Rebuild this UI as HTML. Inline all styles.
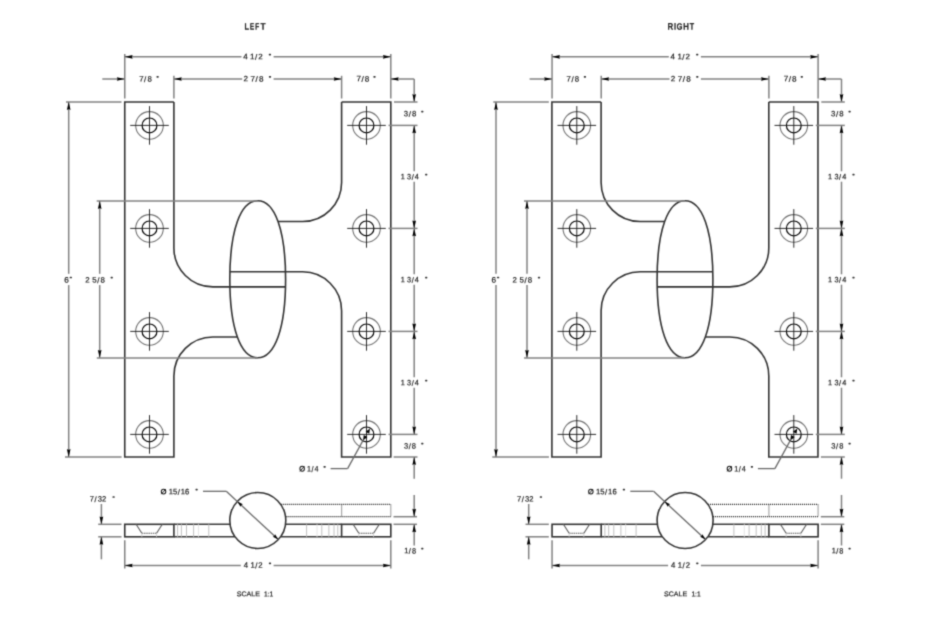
<!DOCTYPE html>
<html><head><meta charset="utf-8"><title>Hinge drawing</title>
<style>html,body{margin:0;padding:0;background:#fff;}svg{display:block;will-change:transform;}text{font-family:"Liberation Sans",sans-serif;font-kerning:none;text-rendering:geometricPrecision;}</style></head><body>
<svg width="925" height="620" viewBox="0 0 925 620">
<defs><filter id="bl" color-interpolation-filters="sRGB" filterUnits="userSpaceOnUse" x="0" y="0" width="925" height="620"><feConvolveMatrix order="3" kernelMatrix="1 4 1 4 16 4 1 4 1" divisor="36" edgeMode="duplicate"/></filter></defs>
<rect width="925" height="620" fill="#fff"/>
<g filter="url(#bl)">
<rect width="925" height="620" fill="#fff"/>
<g>
<g fill="none" stroke="#333333" stroke-width="1.6">
<path d="M173.9,102 H124.75 V457 H173.9 V376 A39.0,39.0 0 0 1 212.9,337 H237.34 M173.9,102 V247.9 A39.0,39.0 0 0 0 212.9,286.9 H285.51 M341.6,102 H390.8 V457 H341.6 V310.8 A39.0,39.0 0 0 0 302.6,271.8 H229.89 M341.6,102 V182.5 A39.0,39.0 0 0 1 302.6,221.5 H278.04"/>
<path d="M257.7,200.8 C275,200.8 285.6,230.63 285.6,279.3 C285.6,327.97 275,357.8 257.7,357.8 C240.4,357.8 229.8,327.97 229.8,279.3 C229.8,230.63 240.4,200.8 257.7,200.8 Z"/>
</g>
<circle cx="149.5" cy="125.4" r="13.8" fill="none" stroke="#727272" stroke-width="1.1"/>
<circle cx="149.5" cy="125.4" r="7.4" fill="none" stroke="#000" stroke-width="1.2"/>
<line x1="130.2" y1="125.4" x2="168.8" y2="125.4" stroke="#222" stroke-width="0.95"/>
<line x1="149.5" y1="106.1" x2="149.5" y2="144.7" stroke="#222" stroke-width="0.95"/>
<circle cx="149.5" cy="228.4" r="13.8" fill="none" stroke="#727272" stroke-width="1.1"/>
<circle cx="149.5" cy="228.4" r="7.4" fill="none" stroke="#000" stroke-width="1.2"/>
<line x1="130.2" y1="228.4" x2="168.8" y2="228.4" stroke="#222" stroke-width="0.95"/>
<line x1="149.5" y1="209.1" x2="149.5" y2="247.7" stroke="#222" stroke-width="0.95"/>
<circle cx="149.5" cy="331.4" r="13.8" fill="none" stroke="#727272" stroke-width="1.1"/>
<circle cx="149.5" cy="331.4" r="7.4" fill="none" stroke="#000" stroke-width="1.2"/>
<line x1="130.2" y1="331.4" x2="168.8" y2="331.4" stroke="#222" stroke-width="0.95"/>
<line x1="149.5" y1="312.1" x2="149.5" y2="350.7" stroke="#222" stroke-width="0.95"/>
<circle cx="149.5" cy="434.4" r="13.8" fill="none" stroke="#727272" stroke-width="1.1"/>
<circle cx="149.5" cy="434.4" r="7.4" fill="none" stroke="#000" stroke-width="1.2"/>
<line x1="130.2" y1="434.4" x2="168.8" y2="434.4" stroke="#222" stroke-width="0.95"/>
<line x1="149.5" y1="415.1" x2="149.5" y2="453.7" stroke="#222" stroke-width="0.95"/>
<circle cx="366.5" cy="125.4" r="13.8" fill="none" stroke="#727272" stroke-width="1.1"/>
<circle cx="366.5" cy="125.4" r="7.4" fill="none" stroke="#000" stroke-width="1.2"/>
<line x1="347.2" y1="125.4" x2="385.8" y2="125.4" stroke="#222" stroke-width="0.95"/>
<line x1="366.5" y1="106.1" x2="366.5" y2="144.7" stroke="#222" stroke-width="0.95"/>
<circle cx="366.5" cy="228.4" r="13.8" fill="none" stroke="#727272" stroke-width="1.1"/>
<circle cx="366.5" cy="228.4" r="7.4" fill="none" stroke="#000" stroke-width="1.2"/>
<line x1="347.2" y1="228.4" x2="385.8" y2="228.4" stroke="#222" stroke-width="0.95"/>
<line x1="366.5" y1="209.1" x2="366.5" y2="247.7" stroke="#222" stroke-width="0.95"/>
<circle cx="366.5" cy="331.4" r="13.8" fill="none" stroke="#727272" stroke-width="1.1"/>
<circle cx="366.5" cy="331.4" r="7.4" fill="none" stroke="#000" stroke-width="1.2"/>
<line x1="347.2" y1="331.4" x2="385.8" y2="331.4" stroke="#222" stroke-width="0.95"/>
<line x1="366.5" y1="312.1" x2="366.5" y2="350.7" stroke="#222" stroke-width="0.95"/>
<circle cx="366.5" cy="434.4" r="13.8" fill="none" stroke="#727272" stroke-width="1.1"/>
<circle cx="366.5" cy="434.4" r="7.4" fill="none" stroke="#000" stroke-width="1.2"/>
<line x1="347.2" y1="434.4" x2="385.8" y2="434.4" stroke="#222" stroke-width="0.95"/>
<line x1="366.5" y1="415.1" x2="366.5" y2="453.7" stroke="#222" stroke-width="0.95"/>
<line x1="124.75" y1="53.9" x2="124.75" y2="98.5" stroke="#828282" stroke-width="1.5"/>
<line x1="390.8" y1="53.9" x2="390.8" y2="98.5" stroke="#828282" stroke-width="1.5"/>
<line x1="173.9" y1="75.8" x2="173.9" y2="98.5" stroke="#828282" stroke-width="1.5"/>
<line x1="341.6" y1="75.8" x2="341.6" y2="98.5" stroke="#828282" stroke-width="1.5"/>
<line x1="124.75" y1="56.8" x2="241.5" y2="56.8" stroke="#828282" stroke-width="1.5"/>
<line x1="273.6" y1="56.8" x2="390.8" y2="56.8" stroke="#828282" stroke-width="1.5"/>
<path d="M124.75,56.8 L132.65,54.95 L131.86,56.8 L132.65,58.65 Z" fill="#000"/>
<path d="M390.8,56.8 L382.9,58.65 L383.69,56.8 L382.9,54.95 Z" fill="#000"/>
<text transform="translate(243.4,59.25) scale(1.0125,1) skewY(0.05)" x="-0.18 0.32 6.61 11.46 14.68" dy="0 0 0 0.45 -0.45" font-size="7.877" fill="#1a1a1a" stroke="#1a1a1a" stroke-width="0.2">4 1/2</text>
<rect x="268.75" y="53.85" width="2.3" height="1.7" fill="#333" rx="0.7"/>
<line x1="173.9" y1="79" x2="242.2" y2="79" stroke="#828282" stroke-width="1.5"/>
<line x1="273.6" y1="79" x2="341.6" y2="79" stroke="#828282" stroke-width="1.5"/>
<path d="M173.9,79 L181.8,77.15 L181.01,79 L181.8,80.85 Z" fill="#000"/>
<path d="M341.6,79 L333.7,80.85 L334.49,79 L333.7,77.15 Z" fill="#000"/>
<text transform="translate(243.9,81.37) scale(1.0436,1) skewY(0.05)" x="-0.39 0.11 6.38 11.17 14.41" dy="0 0 0 0.45 -0.45" font-size="7.768" fill="#1a1a1a" stroke="#1a1a1a" stroke-width="0.2">2 7/8</text>
<rect x="268.85" y="76.05" width="2.3" height="1.7" fill="#333" rx="0.7"/>
<line x1="102.3" y1="79" x2="124.75" y2="79" stroke="#828282" stroke-width="1.5"/>
<path d="M124.75,79 L116.85,80.85 L117.64,79 L116.85,77.15 Z" fill="#000"/>
<text transform="translate(139.7,81.47) scale(1.0068,1) skewY(0.05)" x="-0.4 4.39 7.64" dy="0 0.45 -0.45" font-size="7.768" fill="#1a1a1a" stroke="#1a1a1a" stroke-width="0.2">7/8</text>
<rect x="156.45" y="75.95" width="2.3" height="1.7" fill="#333" rx="0.7"/>
<text transform="translate(356.8,81.37) scale(1.0499,1) skewY(0.05)" x="-0.4 4.39 7.64" dy="0 0.45 -0.45" font-size="7.768" fill="#1a1a1a" stroke="#1a1a1a" stroke-width="0.2">7/8</text>
<rect x="373.35" y="75.95" width="2.3" height="1.7" fill="#333" rx="0.7"/>
<line x1="390.8" y1="79" x2="414.2" y2="79" stroke="#828282" stroke-width="1.5"/>
<path d="M390.8,79 L398.7,77.15 L397.91,79 L398.7,80.85 Z" fill="#000"/>
<line x1="414.2" y1="79" x2="414.2" y2="102" stroke="#828282" stroke-width="1.5"/>
<path d="M414.2,102 L412.35,94.1 L414.2,94.89 L416.05,94.1 Z" fill="#000"/>
<line x1="394" y1="102" x2="417.5" y2="102" stroke="#828282" stroke-width="1.5"/>
<line x1="388.5" y1="125.4" x2="417.5" y2="125.4" stroke="#828282" stroke-width="1.5"/>
<line x1="388.5" y1="228.4" x2="417.5" y2="228.4" stroke="#828282" stroke-width="1.5"/>
<line x1="388.5" y1="331.4" x2="417.5" y2="331.4" stroke="#828282" stroke-width="1.5"/>
<line x1="388.5" y1="434.4" x2="417.5" y2="434.4" stroke="#828282" stroke-width="1.5"/>
<line x1="393.6" y1="457" x2="417.5" y2="457" stroke="#828282" stroke-width="1.5"/>
<text transform="translate(404.1,116.27) scale(1.0024,1) skewY(0.05)" x="-0.3 4.54 7.79" dy="0 0.45 -0.45" font-size="7.768" fill="#1a1a1a" stroke="#1a1a1a" stroke-width="0.2">3/8</text>
<rect x="421.15" y="110.75" width="2.3" height="1.7" fill="#333" rx="0.7"/>
<line x1="414.2" y1="125.4" x2="414.2" y2="171.3" stroke="#828282" stroke-width="1.5"/>
<line x1="414.2" y1="181.7" x2="414.2" y2="228.4" stroke="#828282" stroke-width="1.5"/>
<path d="M414.2,125.4 L416.05,133.3 L414.2,132.51 L412.35,133.3 Z" fill="#000"/>
<path d="M414.2,228.4 L412.35,220.5 L414.2,221.29 L416.05,220.5 Z" fill="#000"/>
<text transform="translate(401.2,179.17) scale(0.9394,1) skewY(0.05)" x="-0.59 -0.09 6.29 11.13 14.54" dy="0 0 0 0.45 -0.45" font-size="7.768" fill="#1a1a1a" stroke="#1a1a1a" stroke-width="0.2">1 3/4</text>
<rect x="425.05" y="173.75" width="2.3" height="1.7" fill="#333" rx="0.7"/>
<line x1="414.2" y1="228.4" x2="414.2" y2="274.3" stroke="#828282" stroke-width="1.5"/>
<line x1="414.2" y1="284.7" x2="414.2" y2="331.4" stroke="#828282" stroke-width="1.5"/>
<path d="M414.2,228.4 L416.05,236.3 L414.2,235.51 L412.35,236.3 Z" fill="#000"/>
<path d="M414.2,331.4 L412.35,323.5 L414.2,324.29 L416.05,323.5 Z" fill="#000"/>
<text transform="translate(401.2,282.17) scale(0.9394,1) skewY(0.05)" x="-0.59 -0.09 6.29 11.13 14.54" dy="0 0 0 0.45 -0.45" font-size="7.768" fill="#1a1a1a" stroke="#1a1a1a" stroke-width="0.2">1 3/4</text>
<rect x="425.05" y="276.75" width="2.3" height="1.7" fill="#333" rx="0.7"/>
<line x1="414.2" y1="331.4" x2="414.2" y2="377.3" stroke="#828282" stroke-width="1.5"/>
<line x1="414.2" y1="387.7" x2="414.2" y2="434.4" stroke="#828282" stroke-width="1.5"/>
<path d="M414.2,331.4 L416.05,339.3 L414.2,338.51 L412.35,339.3 Z" fill="#000"/>
<path d="M414.2,434.4 L412.35,426.5 L414.2,427.29 L416.05,426.5 Z" fill="#000"/>
<text transform="translate(401.2,385.17) scale(0.9394,1) skewY(0.05)" x="-0.59 -0.09 6.29 11.13 14.54" dy="0 0 0 0.45 -0.45" font-size="7.768" fill="#1a1a1a" stroke="#1a1a1a" stroke-width="0.2">1 3/4</text>
<rect x="425.05" y="379.75" width="2.3" height="1.7" fill="#333" rx="0.7"/>
<text transform="translate(404.3,448.57) scale(0.9684,1) skewY(0.05)" x="-0.3 4.54 7.79" dy="0 0.45 -0.45" font-size="7.768" fill="#1a1a1a" stroke="#1a1a1a" stroke-width="0.2">3/8</text>
<rect x="421.15" y="442.85" width="2.3" height="1.7" fill="#333" rx="0.7"/>
<line x1="414.2" y1="457" x2="414.2" y2="478.7" stroke="#828282" stroke-width="1.5"/>
<path d="M414.2,457 L416.05,464.9 L414.2,464.11 L412.35,464.9 Z" fill="#000"/>
<line x1="66" y1="102" x2="121.5" y2="102" stroke="#828282" stroke-width="1.5"/>
<line x1="65" y1="457" x2="121.6" y2="457" stroke="#828282" stroke-width="1.5"/>
<line x1="68.7" y1="102" x2="68.7" y2="273.8" stroke="#828282" stroke-width="1.5"/>
<line x1="68.7" y1="285.1" x2="68.7" y2="457" stroke="#828282" stroke-width="1.5"/>
<path d="M68.7,102 L70.55,109.9 L68.7,109.11 L66.85,109.9 Z" fill="#000"/>
<path d="M68.7,457 L66.85,449.1 L68.7,449.89 L70.55,449.1 Z" fill="#000"/>
<text transform="translate(64.28,282.47) scale(1.0601,1) skewY(0.05)" font-size="7.768" fill="#1a1a1a" stroke="#1a1a1a" stroke-width="0.2">6</text>
<rect x="69.65" y="276.65" width="2.3" height="1.7" fill="#333" rx="0.7"/>
<line x1="96.7" y1="201" x2="257.7" y2="201" stroke="#828282" stroke-width="1.5"/>
<line x1="96.8" y1="357.9" x2="257.7" y2="357.9" stroke="#828282" stroke-width="1.5"/>
<line x1="99.7" y1="201" x2="99.7" y2="273.8" stroke="#828282" stroke-width="1.5"/>
<line x1="99.7" y1="285.1" x2="99.7" y2="357.8" stroke="#828282" stroke-width="1.5"/>
<path d="M99.7,201 L101.55,208.9 L99.7,208.11 L97.85,208.9 Z" fill="#000"/>
<path d="M99.7,357.8 L97.85,349.9 L99.7,350.69 L101.55,349.9 Z" fill="#000"/>
<text transform="translate(85.7,282.47) scale(1.0135,1) skewY(0.05)" x="-0.39 0.11 6.47 11.32 14.57" dy="0 0 0 0.45 -0.45" font-size="7.768" fill="#1a1a1a" stroke="#1a1a1a" stroke-width="0.2">2 5/8</text>
<rect x="110.55" y="276.85" width="2.3" height="1.7" fill="#333" rx="0.7"/>
<line x1="330.6" y1="468.6" x2="347.6" y2="468.6" stroke="#6a6a6a" stroke-width="1.3"/>
<line x1="347.6" y1="468.6" x2="363.05" y2="440.38" stroke="#6a6a6a" stroke-width="1.3"/>
<path d="M363.05,440.38 L363.73,435 L365.55,436.05 L367.37,437.1 Z" fill="#000"/>
<path d="M369.95,428.42 L369.27,433.8 L367.45,432.75 L365.63,431.7 Z" fill="#000"/>
<ellipse cx="302.15" cy="468.8" rx="2.25" ry="2.45" fill="none" stroke="#1a1a1a" stroke-width="1.05"/>
<line x1="299.85" y1="471.4" x2="304.45" y2="466.2" stroke="#1a1a1a" stroke-width="0.9"/>
<text transform="translate(307.6,471.45) scale(0.8930,1) skewY(0.05)" x="-0.61 4.3 7.77" dy="0 0.45 -0.45" font-size="7.994" fill="#1a1a1a" stroke="#1a1a1a" stroke-width="0.2">1/4</text>
<rect x="323.45" y="465.95" width="2.3" height="1.7" fill="#333" rx="0.7"/>
<rect x="124.75" y="524.3" width="49.15" height="12.5" fill="none" stroke="#333333" stroke-width="1.6"/>
<rect x="341.6" y="524.3" width="49.2" height="12.5" fill="none" stroke="#333333" stroke-width="1.6"/>
<line x1="173.9" y1="524.3" x2="230.06" y2="524.3" stroke="#3a3a3a" stroke-width="1.45"/>
<line x1="173.9" y1="536.8" x2="235.03" y2="536.8" stroke="#3a3a3a" stroke-width="1.45"/>
<line x1="285.54" y1="524.3" x2="341.6" y2="524.3" stroke="#3a3a3a" stroke-width="1.45"/>
<line x1="280.57" y1="536.8" x2="341.6" y2="536.8" stroke="#3a3a3a" stroke-width="1.45"/>
<line x1="177.6" y1="524.3" x2="177.6" y2="536.8" stroke="#c2c2c2" stroke-width="1.0"/>
<line x1="337.8" y1="524.3" x2="337.8" y2="536.8" stroke="#c2c2c2" stroke-width="1.0"/>
<line x1="181.4" y1="524.3" x2="181.4" y2="536.8" stroke="#c2c2c2" stroke-width="1.0"/>
<line x1="334" y1="524.3" x2="334" y2="536.8" stroke="#c2c2c2" stroke-width="1.0"/>
<line x1="186.5" y1="524.3" x2="186.5" y2="536.8" stroke="#c2c2c2" stroke-width="1.0"/>
<line x1="328.9" y1="524.3" x2="328.9" y2="536.8" stroke="#c2c2c2" stroke-width="1.0"/>
<line x1="193.6" y1="524.3" x2="193.6" y2="536.8" stroke="#c2c2c2" stroke-width="1.0"/>
<line x1="321.8" y1="524.3" x2="321.8" y2="536.8" stroke="#c2c2c2" stroke-width="1.0"/>
<line x1="198.4" y1="524.3" x2="198.4" y2="536.8" stroke="#e6e6e6" stroke-width="1.0"/>
<line x1="317" y1="524.3" x2="317" y2="536.8" stroke="#e6e6e6" stroke-width="1.0"/>
<line x1="208.8" y1="524.3" x2="208.8" y2="536.8" stroke="#c2c2c2" stroke-width="1.0"/>
<line x1="306.6" y1="524.3" x2="306.6" y2="536.8" stroke="#c2c2c2" stroke-width="1.0"/>
<path d="M136.1,524.3 L141.85,533.2 M156.55,533.2 L162.3,524.3" stroke="#5a5a5a" stroke-width="1.1" fill="none"/>
<line x1="141.85" y1="533.2" x2="156.55" y2="533.2" stroke="#555" stroke-width="1.05" stroke-dasharray="1.5,0.7"/>
<line x1="141.85" y1="533.2" x2="141.85" y2="536.8" stroke="#d0d0d0" stroke-width="0.9"/>
<line x1="156.55" y1="533.2" x2="156.55" y2="536.8" stroke="#d0d0d0" stroke-width="0.9"/>
<path d="M353.1,524.3 L358.85,533.2 M373.55,533.2 L379.3,524.3" stroke="#5a5a5a" stroke-width="1.1" fill="none"/>
<line x1="358.85" y1="533.2" x2="373.55" y2="533.2" stroke="#555" stroke-width="1.05" stroke-dasharray="1.5,0.7"/>
<line x1="358.85" y1="533.2" x2="358.85" y2="536.8" stroke="#d0d0d0" stroke-width="0.9"/>
<line x1="373.55" y1="533.2" x2="373.55" y2="536.8" stroke="#d0d0d0" stroke-width="0.9"/>
<circle cx="257.8" cy="520.5" r="28.0" fill="white" stroke="#333333" stroke-width="1.6"/>
<line x1="280.71" y1="504.4" x2="390.8" y2="504.4" stroke="#2a2a2a" stroke-width="1.3" stroke-dasharray="1.1,0.9"/>
<line x1="285.54" y1="516.7" x2="390.8" y2="516.7" stroke="#2a2a2a" stroke-width="1.3" stroke-dasharray="1.1,0.9"/>
<line x1="341.6" y1="504.4" x2="341.6" y2="516.7" stroke="#555" stroke-width="1.2" stroke-dasharray="1.1,0.9"/>
<line x1="390.8" y1="504.4" x2="390.8" y2="516.7" stroke="#555" stroke-width="1.2" stroke-dasharray="1.1,0.9"/>
<line x1="203" y1="491.3" x2="226.3" y2="491.3" stroke="#6a6a6a" stroke-width="1.3"/>
<line x1="226.3" y1="491.3" x2="278.28" y2="539.6" stroke="#6a6a6a" stroke-width="1.3"/>
<path d="M237.32,501.4 L242.87,504.25 L241.27,505.09 L240.55,506.74 Z" fill="#000"/>
<path d="M278.28,539.6 L272.73,536.75 L274.33,535.91 L275.05,534.26 Z" fill="#000"/>
<ellipse cx="163.55" cy="491.6" rx="2.25" ry="2.45" fill="none" stroke="#1a1a1a" stroke-width="1.05"/>
<line x1="161.25" y1="494.2" x2="165.85" y2="489" stroke="#1a1a1a" stroke-width="0.9"/>
<text transform="translate(169.2,494.17) scale(0.9839,1) skewY(0.05)" x="-0.59 3.9 8.75 11.74 16.15" dy="0 0 0.45 -0.45 0" font-size="7.768" fill="#1a1a1a" stroke="#1a1a1a" stroke-width="0.2">15/16</text>
<rect x="195.45" y="488.75" width="2.3" height="1.7" fill="#333" rx="0.7"/>
<line x1="98.2" y1="524.3" x2="121.5" y2="524.3" stroke="#828282" stroke-width="1.5"/>
<line x1="98.2" y1="536.8" x2="121.5" y2="536.8" stroke="#828282" stroke-width="1.5"/>
<line x1="101.4" y1="504" x2="101.4" y2="524.3" stroke="#828282" stroke-width="1.5"/>
<path d="M101.4,524.3 L99.55,516.4 L101.4,517.19 L103.25,516.4 Z" fill="#000"/>
<line x1="101.4" y1="536.8" x2="101.4" y2="559.3" stroke="#828282" stroke-width="1.5"/>
<path d="M101.4,536.8 L103.25,544.7 L101.4,543.91 L99.55,544.7 Z" fill="#000"/>
<text transform="translate(90.2,501.47) scale(0.9779,1) skewY(0.05)" x="-0.4 4.39 7.68 12.12" dy="0 0.45 -0.45 0" font-size="7.768" fill="#1a1a1a" stroke="#1a1a1a" stroke-width="0.2">7/32</text>
<rect x="112.45" y="496.15" width="2.3" height="1.7" fill="#333" rx="0.7"/>
<line x1="393.5" y1="516.7" x2="417" y2="516.7" stroke="#828282" stroke-width="1.5"/>
<line x1="393.5" y1="524.3" x2="417" y2="524.3" stroke="#828282" stroke-width="1.5"/>
<line x1="414.2" y1="495" x2="414.2" y2="516.7" stroke="#828282" stroke-width="1.5"/>
<path d="M414.2,516.7 L412.35,508.8 L414.2,509.59 L416.05,508.8 Z" fill="#000"/>
<line x1="414.2" y1="524.3" x2="414.2" y2="545.5" stroke="#828282" stroke-width="1.5"/>
<path d="M414.2,524.3 L416.05,532.2 L414.2,531.41 L412.35,532.2 Z" fill="#000"/>
<text transform="translate(404.9,553.37) scale(0.9442,1) skewY(0.05)" x="-0.59 4.21 7.46" dy="0 0.45 -0.45" font-size="7.768" fill="#1a1a1a" stroke="#1a1a1a" stroke-width="0.2">1/8</text>
<rect x="421.15" y="547.75" width="2.3" height="1.7" fill="#333" rx="0.7"/>
<line x1="124.75" y1="540.3" x2="124.75" y2="568.5" stroke="#828282" stroke-width="1.5"/>
<line x1="390.8" y1="540.3" x2="390.8" y2="568.5" stroke="#828282" stroke-width="1.5"/>
<line x1="124.75" y1="565.5" x2="240.8" y2="565.5" stroke="#828282" stroke-width="1.5"/>
<line x1="273.6" y1="565.5" x2="390.8" y2="565.5" stroke="#828282" stroke-width="1.5"/>
<path d="M124.75,565.5 L132.65,563.65 L131.86,565.5 L132.65,567.35 Z" fill="#000"/>
<path d="M390.8,565.5 L382.9,567.35 L383.69,565.5 L382.9,563.65 Z" fill="#000"/>
<text transform="translate(243.9,567.85) scale(0.9857,1) skewY(0.05)" x="-0.18 0.32 6.61 11.46 14.68" dy="0 0 0 0.45 -0.45" font-size="7.877" fill="#1a1a1a" stroke="#1a1a1a" stroke-width="0.2">4 1/2</text>
<rect x="268.85" y="562.55" width="2.3" height="1.7" fill="#333" rx="0.7"/>
</g>
<g transform="translate(427.3,0)">
<g transform="translate(515.4,0) scale(-1,1)" fill="none" stroke="#333333" stroke-width="1.6">
<path d="M173.9,102 H124.75 V457 H173.9 V376 A39.0,39.0 0 0 1 212.9,337 H237.34 M173.9,102 V247.9 A39.0,39.0 0 0 0 212.9,286.9 H285.51 M341.6,102 H390.8 V457 H341.6 V310.8 A39.0,39.0 0 0 0 302.6,271.8 H229.89 M341.6,102 V182.5 A39.0,39.0 0 0 1 302.6,221.5 H278.04"/>
<path d="M257.7,200.8 C275,200.8 285.6,230.63 285.6,279.3 C285.6,327.97 275,357.8 257.7,357.8 C240.4,357.8 229.8,327.97 229.8,279.3 C229.8,230.63 240.4,200.8 257.7,200.8 Z"/>
</g>
<circle cx="149.5" cy="125.4" r="13.8" fill="none" stroke="#727272" stroke-width="1.1"/>
<circle cx="149.5" cy="125.4" r="7.4" fill="none" stroke="#000" stroke-width="1.2"/>
<line x1="130.2" y1="125.4" x2="168.8" y2="125.4" stroke="#222" stroke-width="0.95"/>
<line x1="149.5" y1="106.1" x2="149.5" y2="144.7" stroke="#222" stroke-width="0.95"/>
<circle cx="149.5" cy="228.4" r="13.8" fill="none" stroke="#727272" stroke-width="1.1"/>
<circle cx="149.5" cy="228.4" r="7.4" fill="none" stroke="#000" stroke-width="1.2"/>
<line x1="130.2" y1="228.4" x2="168.8" y2="228.4" stroke="#222" stroke-width="0.95"/>
<line x1="149.5" y1="209.1" x2="149.5" y2="247.7" stroke="#222" stroke-width="0.95"/>
<circle cx="149.5" cy="331.4" r="13.8" fill="none" stroke="#727272" stroke-width="1.1"/>
<circle cx="149.5" cy="331.4" r="7.4" fill="none" stroke="#000" stroke-width="1.2"/>
<line x1="130.2" y1="331.4" x2="168.8" y2="331.4" stroke="#222" stroke-width="0.95"/>
<line x1="149.5" y1="312.1" x2="149.5" y2="350.7" stroke="#222" stroke-width="0.95"/>
<circle cx="149.5" cy="434.4" r="13.8" fill="none" stroke="#727272" stroke-width="1.1"/>
<circle cx="149.5" cy="434.4" r="7.4" fill="none" stroke="#000" stroke-width="1.2"/>
<line x1="130.2" y1="434.4" x2="168.8" y2="434.4" stroke="#222" stroke-width="0.95"/>
<line x1="149.5" y1="415.1" x2="149.5" y2="453.7" stroke="#222" stroke-width="0.95"/>
<circle cx="366.5" cy="125.4" r="13.8" fill="none" stroke="#727272" stroke-width="1.1"/>
<circle cx="366.5" cy="125.4" r="7.4" fill="none" stroke="#000" stroke-width="1.2"/>
<line x1="347.2" y1="125.4" x2="385.8" y2="125.4" stroke="#222" stroke-width="0.95"/>
<line x1="366.5" y1="106.1" x2="366.5" y2="144.7" stroke="#222" stroke-width="0.95"/>
<circle cx="366.5" cy="228.4" r="13.8" fill="none" stroke="#727272" stroke-width="1.1"/>
<circle cx="366.5" cy="228.4" r="7.4" fill="none" stroke="#000" stroke-width="1.2"/>
<line x1="347.2" y1="228.4" x2="385.8" y2="228.4" stroke="#222" stroke-width="0.95"/>
<line x1="366.5" y1="209.1" x2="366.5" y2="247.7" stroke="#222" stroke-width="0.95"/>
<circle cx="366.5" cy="331.4" r="13.8" fill="none" stroke="#727272" stroke-width="1.1"/>
<circle cx="366.5" cy="331.4" r="7.4" fill="none" stroke="#000" stroke-width="1.2"/>
<line x1="347.2" y1="331.4" x2="385.8" y2="331.4" stroke="#222" stroke-width="0.95"/>
<line x1="366.5" y1="312.1" x2="366.5" y2="350.7" stroke="#222" stroke-width="0.95"/>
<circle cx="366.5" cy="434.4" r="13.8" fill="none" stroke="#727272" stroke-width="1.1"/>
<circle cx="366.5" cy="434.4" r="7.4" fill="none" stroke="#000" stroke-width="1.2"/>
<line x1="347.2" y1="434.4" x2="385.8" y2="434.4" stroke="#222" stroke-width="0.95"/>
<line x1="366.5" y1="415.1" x2="366.5" y2="453.7" stroke="#222" stroke-width="0.95"/>
<line x1="124.75" y1="53.9" x2="124.75" y2="98.5" stroke="#828282" stroke-width="1.5"/>
<line x1="390.8" y1="53.9" x2="390.8" y2="98.5" stroke="#828282" stroke-width="1.5"/>
<line x1="173.9" y1="75.8" x2="173.9" y2="98.5" stroke="#828282" stroke-width="1.5"/>
<line x1="341.6" y1="75.8" x2="341.6" y2="98.5" stroke="#828282" stroke-width="1.5"/>
<line x1="124.75" y1="56.8" x2="241.5" y2="56.8" stroke="#828282" stroke-width="1.5"/>
<line x1="273.6" y1="56.8" x2="390.8" y2="56.8" stroke="#828282" stroke-width="1.5"/>
<path d="M124.75,56.8 L132.65,54.95 L131.86,56.8 L132.65,58.65 Z" fill="#000"/>
<path d="M390.8,56.8 L382.9,58.65 L383.69,56.8 L382.9,54.95 Z" fill="#000"/>
<text transform="translate(243.4,59.25) scale(1.0125,1) skewY(0.05)" x="-0.18 0.32 6.61 11.46 14.68" dy="0 0 0 0.45 -0.45" font-size="7.877" fill="#1a1a1a" stroke="#1a1a1a" stroke-width="0.2">4 1/2</text>
<rect x="268.75" y="53.85" width="2.3" height="1.7" fill="#333" rx="0.7"/>
<line x1="173.9" y1="79" x2="242.2" y2="79" stroke="#828282" stroke-width="1.5"/>
<line x1="273.6" y1="79" x2="341.6" y2="79" stroke="#828282" stroke-width="1.5"/>
<path d="M173.9,79 L181.8,77.15 L181.01,79 L181.8,80.85 Z" fill="#000"/>
<path d="M341.6,79 L333.7,80.85 L334.49,79 L333.7,77.15 Z" fill="#000"/>
<text transform="translate(243.9,81.37) scale(1.0436,1) skewY(0.05)" x="-0.39 0.11 6.38 11.17 14.41" dy="0 0 0 0.45 -0.45" font-size="7.768" fill="#1a1a1a" stroke="#1a1a1a" stroke-width="0.2">2 7/8</text>
<rect x="268.85" y="76.05" width="2.3" height="1.7" fill="#333" rx="0.7"/>
<line x1="102.3" y1="79" x2="124.75" y2="79" stroke="#828282" stroke-width="1.5"/>
<path d="M124.75,79 L116.85,80.85 L117.64,79 L116.85,77.15 Z" fill="#000"/>
<text transform="translate(139.7,81.47) scale(1.0068,1) skewY(0.05)" x="-0.4 4.39 7.64" dy="0 0.45 -0.45" font-size="7.768" fill="#1a1a1a" stroke="#1a1a1a" stroke-width="0.2">7/8</text>
<rect x="156.45" y="75.95" width="2.3" height="1.7" fill="#333" rx="0.7"/>
<text transform="translate(356.8,81.37) scale(1.0499,1) skewY(0.05)" x="-0.4 4.39 7.64" dy="0 0.45 -0.45" font-size="7.768" fill="#1a1a1a" stroke="#1a1a1a" stroke-width="0.2">7/8</text>
<rect x="373.35" y="75.95" width="2.3" height="1.7" fill="#333" rx="0.7"/>
<line x1="390.8" y1="79" x2="414.2" y2="79" stroke="#828282" stroke-width="1.5"/>
<path d="M390.8,79 L398.7,77.15 L397.91,79 L398.7,80.85 Z" fill="#000"/>
<line x1="414.2" y1="79" x2="414.2" y2="102" stroke="#828282" stroke-width="1.5"/>
<path d="M414.2,102 L412.35,94.1 L414.2,94.89 L416.05,94.1 Z" fill="#000"/>
<line x1="394" y1="102" x2="417.5" y2="102" stroke="#828282" stroke-width="1.5"/>
<line x1="388.5" y1="125.4" x2="417.5" y2="125.4" stroke="#828282" stroke-width="1.5"/>
<line x1="388.5" y1="228.4" x2="417.5" y2="228.4" stroke="#828282" stroke-width="1.5"/>
<line x1="388.5" y1="331.4" x2="417.5" y2="331.4" stroke="#828282" stroke-width="1.5"/>
<line x1="388.5" y1="434.4" x2="417.5" y2="434.4" stroke="#828282" stroke-width="1.5"/>
<line x1="393.6" y1="457" x2="417.5" y2="457" stroke="#828282" stroke-width="1.5"/>
<text transform="translate(404.1,116.27) scale(1.0024,1) skewY(0.05)" x="-0.3 4.54 7.79" dy="0 0.45 -0.45" font-size="7.768" fill="#1a1a1a" stroke="#1a1a1a" stroke-width="0.2">3/8</text>
<rect x="421.15" y="110.75" width="2.3" height="1.7" fill="#333" rx="0.7"/>
<line x1="414.2" y1="125.4" x2="414.2" y2="171.3" stroke="#828282" stroke-width="1.5"/>
<line x1="414.2" y1="181.7" x2="414.2" y2="228.4" stroke="#828282" stroke-width="1.5"/>
<path d="M414.2,125.4 L416.05,133.3 L414.2,132.51 L412.35,133.3 Z" fill="#000"/>
<path d="M414.2,228.4 L412.35,220.5 L414.2,221.29 L416.05,220.5 Z" fill="#000"/>
<text transform="translate(401.2,179.17) scale(0.9394,1) skewY(0.05)" x="-0.59 -0.09 6.29 11.13 14.54" dy="0 0 0 0.45 -0.45" font-size="7.768" fill="#1a1a1a" stroke="#1a1a1a" stroke-width="0.2">1 3/4</text>
<rect x="425.05" y="173.75" width="2.3" height="1.7" fill="#333" rx="0.7"/>
<line x1="414.2" y1="228.4" x2="414.2" y2="274.3" stroke="#828282" stroke-width="1.5"/>
<line x1="414.2" y1="284.7" x2="414.2" y2="331.4" stroke="#828282" stroke-width="1.5"/>
<path d="M414.2,228.4 L416.05,236.3 L414.2,235.51 L412.35,236.3 Z" fill="#000"/>
<path d="M414.2,331.4 L412.35,323.5 L414.2,324.29 L416.05,323.5 Z" fill="#000"/>
<text transform="translate(401.2,282.17) scale(0.9394,1) skewY(0.05)" x="-0.59 -0.09 6.29 11.13 14.54" dy="0 0 0 0.45 -0.45" font-size="7.768" fill="#1a1a1a" stroke="#1a1a1a" stroke-width="0.2">1 3/4</text>
<rect x="425.05" y="276.75" width="2.3" height="1.7" fill="#333" rx="0.7"/>
<line x1="414.2" y1="331.4" x2="414.2" y2="377.3" stroke="#828282" stroke-width="1.5"/>
<line x1="414.2" y1="387.7" x2="414.2" y2="434.4" stroke="#828282" stroke-width="1.5"/>
<path d="M414.2,331.4 L416.05,339.3 L414.2,338.51 L412.35,339.3 Z" fill="#000"/>
<path d="M414.2,434.4 L412.35,426.5 L414.2,427.29 L416.05,426.5 Z" fill="#000"/>
<text transform="translate(401.2,385.17) scale(0.9394,1) skewY(0.05)" x="-0.59 -0.09 6.29 11.13 14.54" dy="0 0 0 0.45 -0.45" font-size="7.768" fill="#1a1a1a" stroke="#1a1a1a" stroke-width="0.2">1 3/4</text>
<rect x="425.05" y="379.75" width="2.3" height="1.7" fill="#333" rx="0.7"/>
<text transform="translate(404.3,448.57) scale(0.9684,1) skewY(0.05)" x="-0.3 4.54 7.79" dy="0 0.45 -0.45" font-size="7.768" fill="#1a1a1a" stroke="#1a1a1a" stroke-width="0.2">3/8</text>
<rect x="421.15" y="442.85" width="2.3" height="1.7" fill="#333" rx="0.7"/>
<line x1="414.2" y1="457" x2="414.2" y2="478.7" stroke="#828282" stroke-width="1.5"/>
<path d="M414.2,457 L416.05,464.9 L414.2,464.11 L412.35,464.9 Z" fill="#000"/>
<line x1="66" y1="102" x2="121.5" y2="102" stroke="#828282" stroke-width="1.5"/>
<line x1="65" y1="457" x2="121.6" y2="457" stroke="#828282" stroke-width="1.5"/>
<line x1="68.7" y1="102" x2="68.7" y2="273.8" stroke="#828282" stroke-width="1.5"/>
<line x1="68.7" y1="285.1" x2="68.7" y2="457" stroke="#828282" stroke-width="1.5"/>
<path d="M68.7,102 L70.55,109.9 L68.7,109.11 L66.85,109.9 Z" fill="#000"/>
<path d="M68.7,457 L66.85,449.1 L68.7,449.89 L70.55,449.1 Z" fill="#000"/>
<text transform="translate(64.28,282.47) scale(1.0601,1) skewY(0.05)" font-size="7.768" fill="#1a1a1a" stroke="#1a1a1a" stroke-width="0.2">6</text>
<rect x="69.65" y="276.65" width="2.3" height="1.7" fill="#333" rx="0.7"/>
<line x1="96.7" y1="201" x2="257.7" y2="201" stroke="#828282" stroke-width="1.5"/>
<line x1="96.8" y1="357.9" x2="257.7" y2="357.9" stroke="#828282" stroke-width="1.5"/>
<line x1="99.7" y1="201" x2="99.7" y2="273.8" stroke="#828282" stroke-width="1.5"/>
<line x1="99.7" y1="285.1" x2="99.7" y2="357.8" stroke="#828282" stroke-width="1.5"/>
<path d="M99.7,201 L101.55,208.9 L99.7,208.11 L97.85,208.9 Z" fill="#000"/>
<path d="M99.7,357.8 L97.85,349.9 L99.7,350.69 L101.55,349.9 Z" fill="#000"/>
<text transform="translate(85.7,282.47) scale(1.0135,1) skewY(0.05)" x="-0.39 0.11 6.47 11.32 14.57" dy="0 0 0 0.45 -0.45" font-size="7.768" fill="#1a1a1a" stroke="#1a1a1a" stroke-width="0.2">2 5/8</text>
<rect x="110.55" y="276.85" width="2.3" height="1.7" fill="#333" rx="0.7"/>
<line x1="330.6" y1="468.6" x2="347.6" y2="468.6" stroke="#6a6a6a" stroke-width="1.3"/>
<line x1="347.6" y1="468.6" x2="363.05" y2="440.38" stroke="#6a6a6a" stroke-width="1.3"/>
<path d="M363.05,440.38 L363.73,435 L365.55,436.05 L367.37,437.1 Z" fill="#000"/>
<path d="M369.95,428.42 L369.27,433.8 L367.45,432.75 L365.63,431.7 Z" fill="#000"/>
<ellipse cx="302.15" cy="468.8" rx="2.25" ry="2.45" fill="none" stroke="#1a1a1a" stroke-width="1.05"/>
<line x1="299.85" y1="471.4" x2="304.45" y2="466.2" stroke="#1a1a1a" stroke-width="0.9"/>
<text transform="translate(307.6,471.45) scale(0.8930,1) skewY(0.05)" x="-0.61 4.3 7.77" dy="0 0.45 -0.45" font-size="7.994" fill="#1a1a1a" stroke="#1a1a1a" stroke-width="0.2">1/4</text>
<rect x="323.45" y="465.95" width="2.3" height="1.7" fill="#333" rx="0.7"/>
<rect x="124.75" y="524.3" width="49.15" height="12.5" fill="none" stroke="#333333" stroke-width="1.6"/>
<rect x="341.6" y="524.3" width="49.2" height="12.5" fill="none" stroke="#333333" stroke-width="1.6"/>
<line x1="173.9" y1="524.3" x2="230.06" y2="524.3" stroke="#3a3a3a" stroke-width="1.45"/>
<line x1="173.9" y1="536.8" x2="235.03" y2="536.8" stroke="#3a3a3a" stroke-width="1.45"/>
<line x1="285.54" y1="524.3" x2="341.6" y2="524.3" stroke="#3a3a3a" stroke-width="1.45"/>
<line x1="280.57" y1="536.8" x2="341.6" y2="536.8" stroke="#3a3a3a" stroke-width="1.45"/>
<line x1="177.6" y1="524.3" x2="177.6" y2="536.8" stroke="#c2c2c2" stroke-width="1.0"/>
<line x1="337.8" y1="524.3" x2="337.8" y2="536.8" stroke="#c2c2c2" stroke-width="1.0"/>
<line x1="181.4" y1="524.3" x2="181.4" y2="536.8" stroke="#c2c2c2" stroke-width="1.0"/>
<line x1="334" y1="524.3" x2="334" y2="536.8" stroke="#c2c2c2" stroke-width="1.0"/>
<line x1="186.5" y1="524.3" x2="186.5" y2="536.8" stroke="#c2c2c2" stroke-width="1.0"/>
<line x1="328.9" y1="524.3" x2="328.9" y2="536.8" stroke="#c2c2c2" stroke-width="1.0"/>
<line x1="193.6" y1="524.3" x2="193.6" y2="536.8" stroke="#c2c2c2" stroke-width="1.0"/>
<line x1="321.8" y1="524.3" x2="321.8" y2="536.8" stroke="#c2c2c2" stroke-width="1.0"/>
<line x1="198.4" y1="524.3" x2="198.4" y2="536.8" stroke="#e6e6e6" stroke-width="1.0"/>
<line x1="317" y1="524.3" x2="317" y2="536.8" stroke="#e6e6e6" stroke-width="1.0"/>
<line x1="208.8" y1="524.3" x2="208.8" y2="536.8" stroke="#c2c2c2" stroke-width="1.0"/>
<line x1="306.6" y1="524.3" x2="306.6" y2="536.8" stroke="#c2c2c2" stroke-width="1.0"/>
<path d="M136.1,524.3 L141.85,533.2 M156.55,533.2 L162.3,524.3" stroke="#5a5a5a" stroke-width="1.1" fill="none"/>
<line x1="141.85" y1="533.2" x2="156.55" y2="533.2" stroke="#555" stroke-width="1.05" stroke-dasharray="1.5,0.7"/>
<line x1="141.85" y1="533.2" x2="141.85" y2="536.8" stroke="#d0d0d0" stroke-width="0.9"/>
<line x1="156.55" y1="533.2" x2="156.55" y2="536.8" stroke="#d0d0d0" stroke-width="0.9"/>
<path d="M353.1,524.3 L358.85,533.2 M373.55,533.2 L379.3,524.3" stroke="#5a5a5a" stroke-width="1.1" fill="none"/>
<line x1="358.85" y1="533.2" x2="373.55" y2="533.2" stroke="#555" stroke-width="1.05" stroke-dasharray="1.5,0.7"/>
<line x1="358.85" y1="533.2" x2="358.85" y2="536.8" stroke="#d0d0d0" stroke-width="0.9"/>
<line x1="373.55" y1="533.2" x2="373.55" y2="536.8" stroke="#d0d0d0" stroke-width="0.9"/>
<circle cx="257.8" cy="520.5" r="28.0" fill="white" stroke="#333333" stroke-width="1.6"/>
<line x1="280.71" y1="504.4" x2="390.8" y2="504.4" stroke="#2a2a2a" stroke-width="1.3" stroke-dasharray="1.1,0.9"/>
<line x1="285.54" y1="516.7" x2="390.8" y2="516.7" stroke="#2a2a2a" stroke-width="1.3" stroke-dasharray="1.1,0.9"/>
<line x1="341.6" y1="504.4" x2="341.6" y2="516.7" stroke="#555" stroke-width="1.2" stroke-dasharray="1.1,0.9"/>
<line x1="390.8" y1="504.4" x2="390.8" y2="516.7" stroke="#555" stroke-width="1.2" stroke-dasharray="1.1,0.9"/>
<line x1="203" y1="491.3" x2="226.3" y2="491.3" stroke="#6a6a6a" stroke-width="1.3"/>
<line x1="226.3" y1="491.3" x2="278.28" y2="539.6" stroke="#6a6a6a" stroke-width="1.3"/>
<path d="M237.32,501.4 L242.87,504.25 L241.27,505.09 L240.55,506.74 Z" fill="#000"/>
<path d="M278.28,539.6 L272.73,536.75 L274.33,535.91 L275.05,534.26 Z" fill="#000"/>
<ellipse cx="163.55" cy="491.6" rx="2.25" ry="2.45" fill="none" stroke="#1a1a1a" stroke-width="1.05"/>
<line x1="161.25" y1="494.2" x2="165.85" y2="489" stroke="#1a1a1a" stroke-width="0.9"/>
<text transform="translate(169.2,494.17) scale(0.9839,1) skewY(0.05)" x="-0.59 3.9 8.75 11.74 16.15" dy="0 0 0.45 -0.45 0" font-size="7.768" fill="#1a1a1a" stroke="#1a1a1a" stroke-width="0.2">15/16</text>
<rect x="195.45" y="488.75" width="2.3" height="1.7" fill="#333" rx="0.7"/>
<line x1="98.2" y1="524.3" x2="121.5" y2="524.3" stroke="#828282" stroke-width="1.5"/>
<line x1="98.2" y1="536.8" x2="121.5" y2="536.8" stroke="#828282" stroke-width="1.5"/>
<line x1="101.4" y1="504" x2="101.4" y2="524.3" stroke="#828282" stroke-width="1.5"/>
<path d="M101.4,524.3 L99.55,516.4 L101.4,517.19 L103.25,516.4 Z" fill="#000"/>
<line x1="101.4" y1="536.8" x2="101.4" y2="559.3" stroke="#828282" stroke-width="1.5"/>
<path d="M101.4,536.8 L103.25,544.7 L101.4,543.91 L99.55,544.7 Z" fill="#000"/>
<text transform="translate(90.2,501.47) scale(0.9779,1) skewY(0.05)" x="-0.4 4.39 7.68 12.12" dy="0 0.45 -0.45 0" font-size="7.768" fill="#1a1a1a" stroke="#1a1a1a" stroke-width="0.2">7/32</text>
<rect x="112.45" y="496.15" width="2.3" height="1.7" fill="#333" rx="0.7"/>
<line x1="393.5" y1="516.7" x2="417" y2="516.7" stroke="#828282" stroke-width="1.5"/>
<line x1="393.5" y1="524.3" x2="417" y2="524.3" stroke="#828282" stroke-width="1.5"/>
<line x1="414.2" y1="495" x2="414.2" y2="516.7" stroke="#828282" stroke-width="1.5"/>
<path d="M414.2,516.7 L412.35,508.8 L414.2,509.59 L416.05,508.8 Z" fill="#000"/>
<line x1="414.2" y1="524.3" x2="414.2" y2="545.5" stroke="#828282" stroke-width="1.5"/>
<path d="M414.2,524.3 L416.05,532.2 L414.2,531.41 L412.35,532.2 Z" fill="#000"/>
<text transform="translate(404.9,553.37) scale(0.9442,1) skewY(0.05)" x="-0.59 4.21 7.46" dy="0 0.45 -0.45" font-size="7.768" fill="#1a1a1a" stroke="#1a1a1a" stroke-width="0.2">1/8</text>
<rect x="421.15" y="547.75" width="2.3" height="1.7" fill="#333" rx="0.7"/>
<line x1="124.75" y1="540.3" x2="124.75" y2="568.5" stroke="#828282" stroke-width="1.5"/>
<line x1="390.8" y1="540.3" x2="390.8" y2="568.5" stroke="#828282" stroke-width="1.5"/>
<line x1="124.75" y1="565.5" x2="240.8" y2="565.5" stroke="#828282" stroke-width="1.5"/>
<line x1="273.6" y1="565.5" x2="390.8" y2="565.5" stroke="#828282" stroke-width="1.5"/>
<path d="M124.75,565.5 L132.65,563.65 L131.86,565.5 L132.65,567.35 Z" fill="#000"/>
<path d="M390.8,565.5 L382.9,567.35 L383.69,565.5 L382.9,563.65 Z" fill="#000"/>
<text transform="translate(243.9,567.85) scale(0.9857,1) skewY(0.05)" x="-0.18 0.32 6.61 11.46 14.68" dy="0 0 0 0.45 -0.45" font-size="7.877" fill="#1a1a1a" stroke="#1a1a1a" stroke-width="0.2">4 1/2</text>
<rect x="268.85" y="562.55" width="2.3" height="1.7" fill="#333" rx="0.7"/>
</g>
<text transform="translate(244.55,29.6) scale(0.8953,1) skewY(0.05)" font-size="8.866" fill="#1e1e1e" stroke="#1e1e1e" stroke-width="0.55">L</text>
<text transform="translate(249.9,29.6) scale(0.6867,1) skewY(0.05)" font-size="8.866" fill="#1e1e1e" stroke="#1e1e1e" stroke-width="0.55">E</text>
<text transform="translate(255.28,29.6) scale(0.7153,1) skewY(0.05)" font-size="8.866" fill="#1e1e1e" stroke="#1e1e1e" stroke-width="0.55">F</text>
<text transform="translate(260.51,29.6) scale(0.9375,1) skewY(0.05)" font-size="8.866" fill="#1e1e1e" stroke="#1e1e1e" stroke-width="0.55">T</text>
<text transform="translate(667.69,29.5) scale(0.8223,1) skewY(0.05)" font-size="9.012" fill="#1e1e1e" stroke="#1e1e1e" stroke-width="0.55">R</text>
<text transform="translate(674.11,29.5) scale(0.8329,1) skewY(0.05)" font-size="9.012" fill="#1e1e1e" stroke="#1e1e1e" stroke-width="0.55">I</text>
<text transform="translate(676.64,29.41) scale(0.8221,1) skewY(0.05)" font-size="8.757" fill="#1e1e1e" stroke="#1e1e1e" stroke-width="0.55">G</text>
<text transform="translate(683.17,29.5) scale(0.8542,1) skewY(0.05)" font-size="9.012" fill="#1e1e1e" stroke="#1e1e1e" stroke-width="0.55">H</text>
<text transform="translate(689.84,29.5) scale(0.7850,1) skewY(0.05)" font-size="9.012" fill="#1e1e1e" stroke="#1e1e1e" stroke-width="0.55">T</text>
<text transform="translate(236.68,596.33) scale(1.0234,1) skewY(0.05)" font-size="6.921" fill="#222" stroke="#222" stroke-width="0.2">SCALE</text>
<text transform="translate(264.09,596.4) scale(0.9322,1) skewY(0.05)" font-size="7.122" fill="#222" stroke="#222" stroke-width="0.2">1:1</text>
<text transform="translate(663.98,596.33) scale(1.0234,1) skewY(0.05)" font-size="6.921" fill="#222" stroke="#222" stroke-width="0.2">SCALE</text>
<text transform="translate(691.39,596.4) scale(0.9322,1) skewY(0.05)" font-size="7.122" fill="#222" stroke="#222" stroke-width="0.2">1:1</text>
</g>
</svg></body></html>
